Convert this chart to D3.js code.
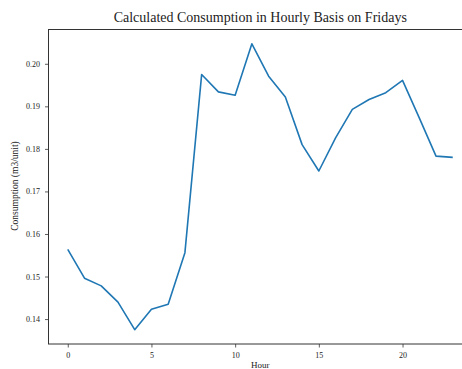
<!DOCTYPE html>
<html>
<head>
<meta charset="utf-8">
<script src="https://cdn.jsdelivr.net/npm/d3@7"></script>
<style>
  html, body { margin: 0; padding: 0; background: #fff; }
  svg { display: block; }
  text { font-family: "Liberation Serif", "Times New Roman", serif; fill: #222; }
</style>
</head>
<body>
<svg id="chart" width="462" height="369"></svg>
<script>
// Average consumption per hour of the day, Fridays
const hours = [0, 1, 2, 3, 4, 5, 6, 7, 8, 9, 10, 11, 12, 13, 14, 15, 16, 17, 18, 19, 20, 21, 22, 23];
const consumption = [0.1564, 0.1496, 0.1478, 0.1440, 0.1375, 0.1423, 0.1435, 0.1556,
                     0.1975, 0.1934, 0.1926, 0.2047, 0.1971, 0.1922, 0.1810, 0.1748,
                     0.1826, 0.1893, 0.1916, 0.1932, 0.1961, 0.1873, 0.1783, 0.1780];
const xTicks = [0, 5, 10, 15, 20];
const yTicks = [0.14, 0.15, 0.16, 0.17, 0.18, 0.19, 0.20];
const titleText = "Calculated Consumption in Hourly Basis on Fridays";
const xLabel = "Hour";
const yLabel = "Consumption (m3/unit)";

const svg = d3.select("#chart");
const plot = { left: 48.5, right: 472, top: 29.5, bottom: 344 };

// 5% padding on each side of the data range
const xPad = (d3.max(hours) - d3.min(hours)) * 0.05;
const x = d3.scaleLinear()
  .domain([d3.min(hours) - xPad, d3.max(hours) + xPad])
  .range([plot.left, plot.right]);
const yMin = d3.min(consumption), yMax = d3.max(consumption);
const yPad = (yMax - yMin) * 0.05;
const y = d3.scaleLinear()
  .domain([yMin - yPad, yMax + yPad])
  .range([plot.bottom, plot.top]);

// data line
const line = d3.line().x((d, i) => x(hours[i])).y(d => y(d));
svg.append("path")
  .datum(consumption)
  .attr("fill", "none")
  .attr("stroke", "#1f77b4")
  .attr("stroke-width", 1.6)
  .attr("stroke-linejoin", "round")
  .attr("d", line);

// axes
const xAxis = svg.append("g")
  .attr("transform", `translate(0,${plot.bottom})`)
  .call(d3.axisBottom(x).tickValues(xTicks).tickFormat(d3.format("d")).tickSizeInner(3.5).tickSizeOuter(0).tickPadding(5));
const yAxis = svg.append("g")
  .attr("transform", `translate(${plot.left},0)`)
  .call(d3.axisLeft(y).tickValues(yTicks).tickFormat(d3.format(".2f")).tickSizeInner(3.5).tickSizeOuter(0).tickPadding(5));

[xAxis, yAxis].forEach(g => {
  g.select(".domain").remove();
  g.selectAll(".tick line").attr("stroke", "#333").attr("stroke-width", 0.8);
  g.selectAll(".tick text").attr("font-size", 8).attr("fill", "#333")
    .attr("font-family", "Liberation Serif, serif");
});

// frame
svg.append("rect")
  .attr("x", plot.left).attr("y", plot.top)
  .attr("width", plot.right - plot.left).attr("height", plot.bottom - plot.top)
  .attr("fill", "none").attr("stroke", "#333").attr("stroke-width", 1);

// title and axis labels
const cx = (plot.left + plot.right) / 2;
svg.append("text")
  .attr("x", cx).attr("y", 22)
  .attr("text-anchor", "middle")
  .attr("font-size", 14)
  .text(titleText);
svg.append("text")
  .attr("x", cx).attr("y", 368)
  .attr("text-anchor", "middle")
  .attr("font-size", 9)
  .text(xLabel);
svg.append("text")
  .attr("transform", `translate(18,186) rotate(-90)`)
  .attr("text-anchor", "middle")
  .attr("font-size", 9.5)
  .text(yLabel);
</script>
</body>
</html>
